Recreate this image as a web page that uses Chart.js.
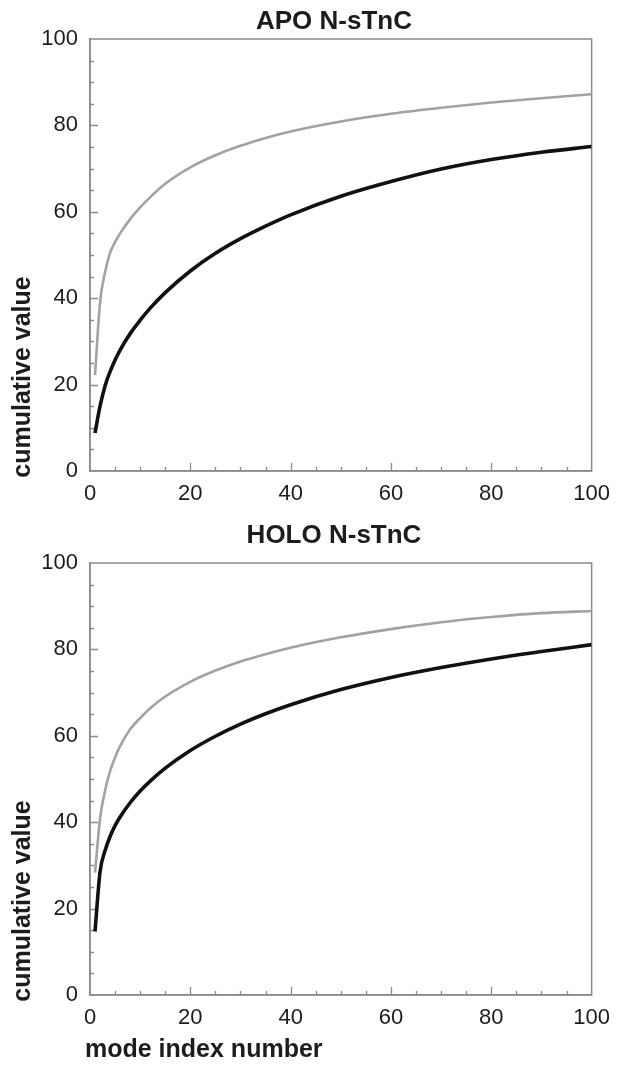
<!DOCTYPE html>
<html>
<head>
<meta charset="utf-8">
<script src="https://cdn.jsdelivr.net/npm/chart.js@4/dist/chart.umd.min.js"></script>
<style>
  html, body { margin: 0; padding: 0; background: #ffffff; }
  #wrap { position: relative; width: 620px; height: 1066px; overflow: hidden; }
  canvas { position: absolute; left: 0; }
</style>
</head>
<body>
<div id="wrap">
  <canvas id="apo" width="620" height="520" style="top:0px"></canvas>
  <canvas id="holo" width="620" height="546" style="top:520px"></canvas>
</div>
<script>
// ---- data ----
const modeIndex = [1, 2, 3, 4, 5, 6, 8, 10, 12, 15, 20, 25, 30, 35, 40, 50, 60, 70, 80, 90, 100];

const apoGray  = [22.2, 39.0, 46.0, 50.5, 53.0, 55.0, 58.3, 61.0, 63.4, 66.5, 70.3, 73.1, 75.3, 77.1, 78.6, 80.9, 82.7, 84.1, 85.3, 86.3, 87.2];
const apoBlack = [8.8, 15.0, 19.7, 23.0, 25.7, 28.0, 31.8, 34.9, 37.7, 41.3, 46.3, 50.4, 53.8, 56.7, 59.3, 63.6, 67.0, 69.9, 72.1, 73.8, 75.1];

const holoGray  = [28.3, 40.8, 47.3, 51.8, 55.0, 57.6, 61.5, 64.1, 66.4, 69.1, 72.5, 75.1, 77.2, 78.9, 80.4, 82.8, 84.7, 86.3, 87.5, 88.4, 88.9];
const holoBlack = [14.7, 28.5, 33.4, 36.7, 39.2, 41.2, 44.5, 47.2, 49.5, 52.5, 56.6, 59.9, 62.7, 65.1, 67.2, 70.7, 73.5, 75.8, 77.8, 79.5, 81.1];

const axisMin = 0, axisMax = 100, majorStep = 20, minorStep = 5;
const titles = ["APO N-sTnC", "HOLO N-sTnC"];
const yAxisTitle = "cumulative value";
const xAxisTitle = "mode index number";

// ---- drawing ----
const FONT = "'Liberation Sans', Arial, Helvetica, sans-serif";
const AXIS_COLOR = '#8a8a8a';
const TEXT_COLOR = '#1c1c1c';

function pts(xs, ys) { return xs.map((x, i) => ({ x: x, y: ys[i] })); }

function framePlugin(opts) {
  return {
    id: 'frame_' + opts.key,
    beforeDatasetsDraw(chart) {
      const { ctx, chartArea: a, scales: { x, y } } = chart;
      ctx.save();
      ctx.strokeStyle = AXIS_COLOR;
      ctx.lineWidth = 1.5;
      ctx.strokeRect(a.left, a.top, a.right - a.left, a.bottom - a.top);
      ctx.lineWidth = 1.3;
      ctx.beginPath();
      for (let v = axisMin + minorStep; v < axisMax; v += minorStep) {
        const len = (v % majorStep === 0) ? 8 : 4;
        const px = Math.round(x.getPixelForValue(v)) + 0.5;
        ctx.moveTo(px, a.bottom);
        ctx.lineTo(px, a.bottom - len);
        const py = Math.round(y.getPixelForValue(v)) + 0.5;
        ctx.moveTo(a.left, py);
        ctx.lineTo(a.left + len, py);
      }
      ctx.stroke();
      ctx.restore();
    },
    afterDraw(chart) {
      const { ctx } = chart;
      ctx.save();
      ctx.fillStyle = TEXT_COLOR;
      ctx.textBaseline = 'middle';
      // title
      ctx.font = "bold 26px " + FONT;
      ctx.textAlign = 'center';
      ctx.fillText(opts.title, opts.titleX, opts.titleY);
      // y axis title (rotated)
      ctx.font = "bold 25px " + FONT;
      ctx.save();
      ctx.translate(opts.yTitleX, opts.yTitleY);
      ctx.rotate(-Math.PI / 2);
      ctx.textAlign = 'center';
      ctx.fillText(yAxisTitle, 0, 0);
      ctx.restore();
      // x axis title
      if (opts.xTitle) {
        ctx.textAlign = 'left';
        ctx.font = "bold 25px " + FONT;
        ctx.fillText(opts.xTitle, opts.xTitleX, opts.xTitleY);
      }
      ctx.restore();
    }
  };
}

function makeChart(id, grayVals, blackVals, cfg) {
  const ctx = document.getElementById(id).getContext('2d');
  return new Chart(ctx, {
    type: 'line',
    data: {
      datasets: [
        {
          label: 'gray',
          data: pts(modeIndex, grayVals),
          borderColor: '#a2a2a2',
          borderWidth: 2.6,
          pointRadius: 0,
          fill: false,
          cubicInterpolationMode: 'monotone'
        },
        {
          label: 'black',
          data: pts(modeIndex, blackVals),
          borderColor: '#111111',
          borderWidth: 3.6,
          pointRadius: 0,
          fill: false,
          cubicInterpolationMode: 'monotone'
        }
      ]
    },
    options: {
      responsive: false,
      animation: false,
      devicePixelRatio: 1,
      layout: { padding: { left: 0, right: 22, top: cfg.padTop, bottom: 0 } },
      plugins: { legend: { display: false }, tooltip: { enabled: false }, title: { display: false } },
      scales: {
        x: {
          type: 'linear',
          min: axisMin, max: axisMax,
          ticks: { stepSize: majorStep, padding: 10, color: TEXT_COLOR, font: { family: FONT, size: 22 }, maxRotation: 0 },
          grid: { display: true, drawOnChartArea: false, drawTicks: false },
          border: { display: true, color: AXIS_COLOR, width: 1.5 },
          afterFit(s) { s.height = cfg.xHeight; }
        },
        y: {
          type: 'linear',
          min: axisMin, max: axisMax,
          ticks: { stepSize: majorStep, padding: 12, color: TEXT_COLOR, font: { family: FONT, size: 22 } },
          grid: { display: true, drawOnChartArea: false, drawTicks: false },
          border: { display: true, color: AXIS_COLOR, width: 1.5 },
          afterFit(s) { s.width = 90; }
        }
      }
    },
    plugins: [framePlugin(cfg)]
  });
}

makeChart('apo', apoGray, apoBlack, {
  key: 'apo', title: titles[0], titleX: 334, titleY: 22,
  yTitleX: 23, yTitleY: 377, padTop: 39, xHeight: 49
});

makeChart('holo', holoGray, holoBlack, {
  key: 'holo', title: titles[1], titleX: 334, titleY: 16,
  yTitleX: 23, yTitleY: 381, padTop: 43, xHeight: 71,
  xTitle: xAxisTitle, xTitleX: 85, xTitleY: 530
});
</script>
</body>
</html>
